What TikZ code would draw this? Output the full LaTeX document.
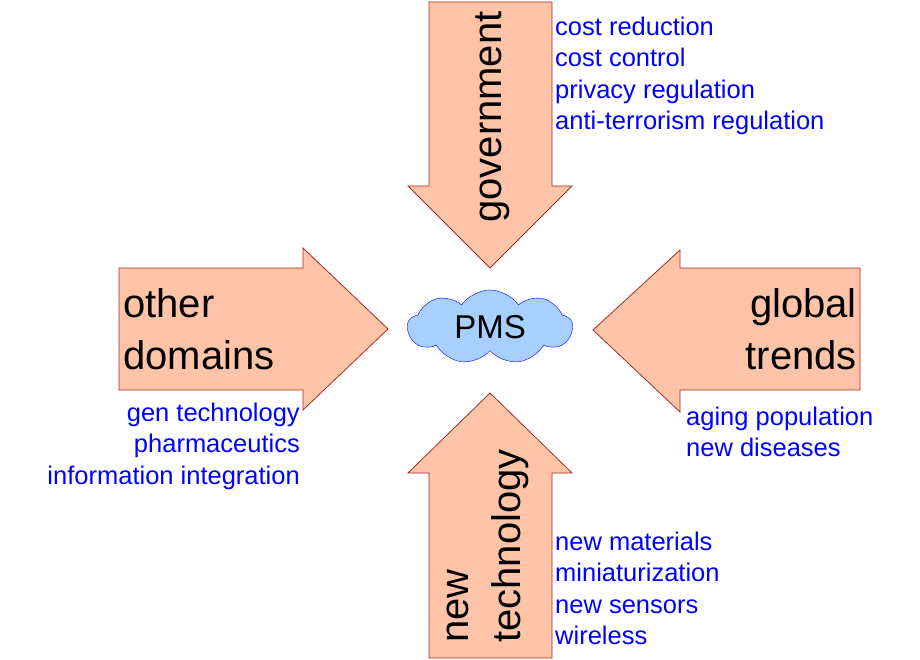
\documentclass[tikz,border=0pt]{standalone}
\usepackage{fontspec}
\setmainfont{Liberation Sans}
\usetikzlibrary{shapes.symbols}
\definecolor{arrfill}{RGB}{255,196,168}
\definecolor{arrline}{RGB}{165,45,35}
\definecolor{cloudfill}{RGB}{168,208,255}
\begin{document}
\begin{tikzpicture}[x=1pt,y=-1pt,
 bigarrow/.style={fill=arrfill,draw=arrline,line width=0.8pt,line join=miter},
 lbl/.style={text=blue,font=\fontsize{25.5}{31.3}\selectfont,inner sep=0pt},
 big/.style={font=\fontsize{40}{52}\selectfont,inner sep=0pt}]
\useasboundingbox (0,0) rectangle (920,660);
% top
\draw[bigarrow] (429,2) -- (552,2) -- (552,186) -- (572,186) -- (490,268) -- (408,186) -- (429,186) -- cycle;
% left
\draw[bigarrow] (119,268) -- (303,268) -- (303,248) -- (388,329) -- (303,410) -- (303,390) -- (119,390) -- cycle;
% right
\draw[bigarrow] (860,268) -- (680,268) -- (680,250) -- (593,330) -- (680,412) -- (680,390) -- (860,390) -- cycle;
% bottom
\draw[bigarrow] (429,658) -- (552,658) -- (552,473) -- (572,473) -- (490,393) -- (408,473) -- (429,473) -- cycle;
\node[cloud, cloud puffs=9, cloud puff arc=110, aspect=2.3, minimum width=165pt, minimum height=74pt, fill=cloudfill, draw=blue, inner sep=0pt] (pms) at (490,327) {};
\node[font=\fontsize{33}{36}\selectfont,inner sep=0pt] at (pms) {PMS};
\node[big,rotate=90] (gov) at (493,117) {government};
\node[big,rotate=90,align=left] (tech) at (488,546) {new\\technology};
\node[big,align=left,anchor=west] (od) at (123,329) {other\\domains};
\node[big,align=right,anchor=east] (gt) at (857,329) {global\\trends};
\node[lbl,align=left,anchor=north west] at (555,17) {cost reduction\\cost control\\privacy regulation\\anti-terrorism regulation};
\node[lbl,align=right,anchor=north east] at (300,403) {gen technology\\pharmaceutics\\information integration};
\node[lbl,align=left,anchor=north west] at (686,407) {aging population\\new diseases};
\node[lbl,align=left,anchor=north west] at (555,532) {new materials\\miniaturization\\new sensors\\wireless};
\end{tikzpicture}
\end{document}
